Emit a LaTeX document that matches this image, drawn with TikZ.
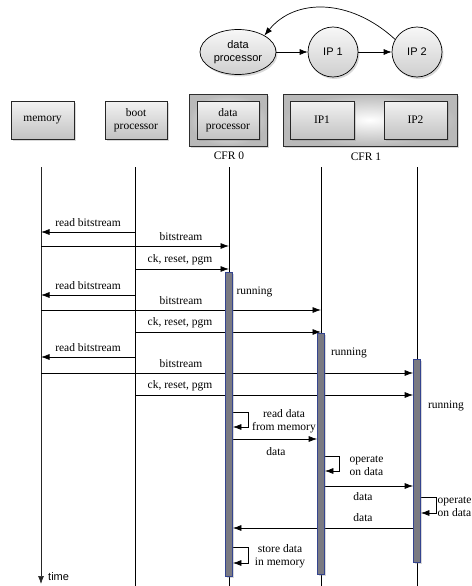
\documentclass[tikz,border=0pt]{standalone}
\usepackage{fontspec}
\setmainfont{Liberation Serif}
\newfontfamily\arialf{Liberation Sans}
\usetikzlibrary{arrows.meta,shadows,shapes.geometric}
\pgfdeclarelayer{bg}
\pgfsetlayers{bg,main}
\definecolor{barfill}{HTML}{7A7A82}
\definecolor{barline}{HTML}{34448F}
\begin{document}
\begin{tikzpicture}[x=1pt,y=-1pt,
  sans/.style={font=\arialf\fontsize{11}{12.5}\selectfont},
  serif/.style={font=\fontsize{11.5}{13}\selectfont},
  shad/.style={drop shadow={opacity=0.3,shadow xshift=1.5pt,shadow yshift=-2pt}},
  gnode/.style={draw=black, line width=0.7pt, top color=gray!6, bottom color=gray!38, shad, sans, align=center, inner sep=0pt},
  box/.style={draw=gray!30!black, line width=0.6pt, top color=gray!10, bottom color=gray!48, shad, serif, align=center, inner sep=0pt, minimum height=38},
  frame/.style={draw=gray!35!black, line width=0.9pt, inner color=white, outer color=gray!55, shad, minimum height=52, inner sep=0pt},
  life/.style={line width=0.7pt},
  msg/.style={line width=0.7pt, -{Latex[length=8.5pt,width=6pt]}},
  garr/.style={line width=0.7pt, -{Latex[length=8pt,width=6pt]}},
  bar/.style={draw=barline, line width=0.7pt, fill=barfill, minimum width=7, inner sep=0pt, shad},
  lbl/.style={serif, inner sep=0pt, align=center},
]
\useasboundingbox (0,0) rectangle (471,586);

% top graph
\node[gnode, ellipse, minimum width=76, minimum height=45] (gdp) at (238,52) {data\\processor};
\node[gnode, circle, minimum size=50] (gip1) at (333,52) {IP 1};
\node[gnode, circle, minimum size=50] (gip2) at (417,52) {IP 2};
\draw[garr] (gdp) -- (gip1);
\draw[garr] (gip1) -- (gip2);
\draw[garr] (gip2.150) .. controls (350,-2) and (295,-2) .. (gdp.32);

% component boxes
\node[box, minimum width=63] (mem) at (42.5,120) {memory};
\node[box, minimum width=62] (boot) at (136,120) {boot\\processor};
\node[frame, minimum width=78] (cfr0) at (228,120) {};
\node[frame, minimum width=174] (cfr1) at (370,120) {};
\node[box, minimum width=62] (dp) at (228,120) {data\\processor};
\node[box, minimum width=64] (ip1) at (322,120) {IP1};
\node[box, minimum width=63] (ip2) at (415.5,120) {IP2};
\node[lbl] (c0) at (229,156) {CFR 0};
\node[lbl] (c1) at (366,157) {CFR 1};

% lifeline coordinates
\coordinate (m) at (41,167);
\coordinate (b) at (135,167);
\coordinate (d) at (229,167);
\coordinate (p) at (321,167);
\coordinate (q) at (417,167);
\coordinate (mE) at (41,584);
\coordinate (bE) at (135,586);
\coordinate (dE) at (229,586);
\coordinate (pE) at (321,586);
\coordinate (qE) at (417,586);

% activation bars
\node[bar, minimum height=304] (barD) at (229,424) {};
\node[bar, minimum height=241] (barP) at (321,453.5) {};
\node[bar, minimum height=203] (barQ) at (417,460.5) {};

\begin{pgfonlayer}{bg}
\draw[life, draw=gray!30!black, -{Latex[length=8pt,width=6pt]}] (m) -- (mE);
\draw[life] (b) -- (bE);
\draw[life] (d) -- (dE);
\draw[life] (p) -- (pE);
\draw[life] (q) -- (qE);

\draw[msg] (b |- 0,232) -- (m |- 0,232);
\draw[msg] (m |- 0,246) -- (d |- 0,246);
\draw[msg] (b |- 0,269) -- (d |- 0,269);
\draw[msg] (b |- 0,295) -- (m |- 0,295);
\draw[msg] (m |- 0,310) -- (p |- 0,310);
\draw[msg] (b |- 0,332) -- (p |- 0,332);
\draw[msg] (b |- 0,357) -- (m |- 0,357);
\draw[msg] (m |- 0,373) -- (barQ.west |- 0,373);
\draw[msg] (b |- 0,395) -- (barQ.west |- 0,395);

\draw[msg] (barD.east |- 0,412) -- (248,412) -- (248,427) -- (barD.east |- 0,427);
\draw[msg] (barD.east |- 0,439) -- (barP.west |- 0,439);
\draw[msg] (barP.east |- 0,456) -- (339,456) -- (339,471) -- (barP.east |- 0,471);
\draw[msg] (barP.east |- 0,486) -- (barQ.west |- 0,486);
\draw[msg] (barQ.east |- 0,497) -- (436,497) -- (436,513) -- (barQ.east |- 0,513);
\draw[msg] (barQ.west |- 0,528) -- (barD.east |- 0,528);
\draw[msg] (barD.east |- 0,547) -- (248,547) -- (248,563) -- (barD.east |- 0,563);
\end{pgfonlayer}

% labels
\node[lbl] (l1) at (88,223) {read bitstream};
\node[lbl] (l2) at (181,237) {bitstream};
\node[lbl] (l3) at (180,260) {ck, reset, pgm};
\node[lbl] (l4) at (88,286) {read bitstream};
\node[lbl] (l5) at (181,301) {bitstream};
\node[lbl] (l6) at (180,323) {ck, reset, pgm};
\node[lbl] (l7) at (88,348) {read bitstream};
\node[lbl] (l8) at (181,364) {bitstream};
\node[lbl] (l9) at (180,386) {ck, reset, pgm};
\node[lbl] (r1) at (254.5,292) {running};
\node[lbl] (r2) at (349,353) {running};
\node[lbl] (r3) at (446,406) {running};
\node[lbl] (s1) at (284,421) {read data\\from memory};
\node[lbl] (d1) at (276,452) {data};
\node[lbl] (s2) at (366.5,466) {operate\\on data};
\node[lbl] (d2) at (363,497) {data};
\node[lbl, anchor=west, align=left] (s3) at (437.5,506.5) {operate\\on data};
\node[lbl] (d3) at (363,518) {data};
\node[lbl] (s4) at (280,556) {store data\\in memory};
\node[sans, anchor=west, inner sep=0pt] (tm) at (48,577) {time};
\end{tikzpicture}
\end{document}
